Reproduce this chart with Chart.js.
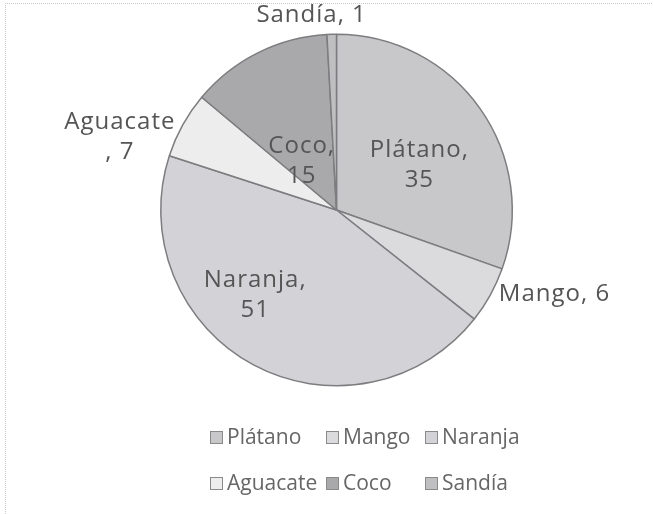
<!DOCTYPE html>
<html>
<head>
<meta charset="utf-8">
<script src="https://cdn.jsdelivr.net/npm/chart.js@4"></script>
<style>
  html,body{margin:0;padding:0;background:#fff;}
  #wrap{position:relative;width:653px;height:514px;}
  #frame{position:absolute;left:5px;top:3px;width:700px;height:600px;border-top:1px dotted #c8c8c8;border-left:1px dotted #c8c8c8;pointer-events:none;}
  canvas{position:absolute;left:0;top:0;}
</style>
</head>
<body>
<div id="wrap">
  <canvas id="c" width="653" height="514"></canvas>
  <div id="frame"></div>
</div>
<script>
// ---- data ----
const categories = ['Plátano', 'Mango', 'Naranja', 'Aguacate', 'Coco', 'Sandía'];
const values = [35, 6, 51, 7, 15, 1];
// ---- styles ----
const colors = ['#c8c8cb', '#dbdbdd', '#d3d3d7', '#ededed', '#a9a9ac', '#bfbfc1'];
const labelLines = [
  ['Plátano,', '35'],
  ['Mango, 6'],
  ['Naranja,', '51'],
  ['Aguacate', ', 7'],
  ['Coco,', '15'],
  ['Sandía, 1']
];
// label placement: [fraction of radius, angle offset from bisector in degrees]
const labelPlace = [
  [0.535, 7],
  [1.33, -7.8],
  [0.67, 15.5],
  [1.30, -10.4],
  [0.34, -9],
  [1.12, -5.7]
];
const legendCols = [210, 326, 425];
const legendRows = [437, 483];

const labelPlugin = {
  id: 'sliceLabels',
  afterDatasetsDraw(chart) {
    const ctx = chart.ctx;
    const meta = chart.getDatasetMeta(0);
    ctx.save();
    ctx.font = '24px "Open Sans"';
    ctx.letterSpacing = '1px';
    ctx.fillStyle = '#555555';
    ctx.textAlign = 'center';
    ctx.textBaseline = 'middle';
    meta.data.forEach((arc, i) => {
      const p = arc.getProps(['x', 'y', 'startAngle', 'endAngle', 'outerRadius'], true);
      const mid = (p.startAngle + p.endAngle) / 2 + labelPlace[i][1] * Math.PI / 180;
      const r = p.outerRadius * labelPlace[i][0];
      const cx = p.x + Math.cos(mid) * r;
      const cy = p.y + Math.sin(mid) * r;
      const lines = labelLines[i];
      const lh = 30;
      lines.forEach((t, k) => {
        ctx.fillText(t, cx, cy + (k - (lines.length - 1) / 2) * lh);
      });
    });
    ctx.restore();
  }
};

const legendPlugin = {
  id: 'gridLegend',
  afterDraw(chart) {
    const ctx = chart.ctx;
    ctx.save();
    ctx.font = '21px "Open Sans"';
    ctx.textBaseline = 'middle';
    ctx.textAlign = 'left';
    categories.forEach((name, i) => {
      const x = legendCols[i % 3];
      const y = legendRows[Math.floor(i / 3)];
      ctx.fillStyle = colors[i];
      ctx.fillRect(x, y - 6, 13, 13);
      ctx.strokeStyle = '#8a8a8a';
      ctx.lineWidth = 1;
      ctx.strokeRect(x + 0.5, y - 5.5, 12, 12);
      ctx.fillStyle = '#666666';
      ctx.fillText(name, x + 17, y + 1);
    });
    ctx.restore();
  }
};

new Chart(document.getElementById('c'), {
  type: 'pie',
  data: {
    labels: categories,
    datasets: [{
      data: values,
      backgroundColor: colors,
      borderColor: '#7d7d80',
      borderWidth: 1.5
    }]
  },
  options: {
    responsive: false,
    animation: false,
    layout: { padding: { left: 160, right: 140, top: 32, bottom: 126 } },
    plugins: {
      legend: { display: false },
      tooltip: { enabled: false }
    }
  },
  plugins: [labelPlugin, legendPlugin]
});
</script>
</body>
</html>
